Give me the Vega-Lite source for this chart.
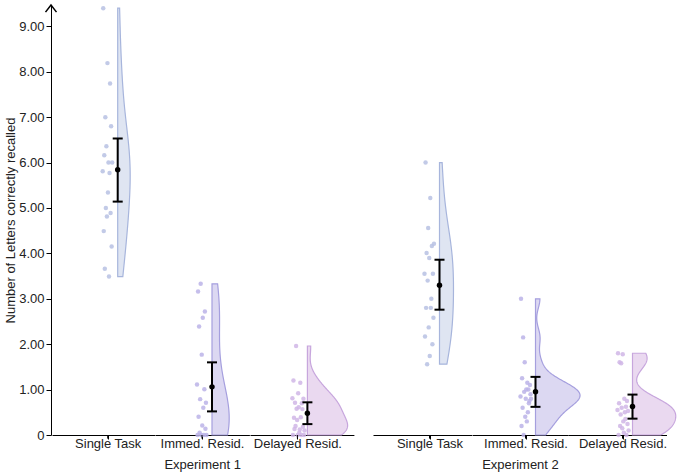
{
"$schema": "https://vega.github.io/schema/vega-lite/v6.json",
"padding": {"left": 4, "top": 2, "right": 8, "bottom": 4},
"config": {"view": {"stroke": null}, "font": "Liberation Sans", "axis": {"labelFont": "Liberation Sans", "titleFont": "Liberation Sans", "grid": false, "domainColor": "#000", "tickColor": "#000", "labelColor": "#222", "titleColor": "#222", "labelFontSize": 13, "titleFontSize": 13, "titleFontWeight": "normal", "ticks": true, "tickWidth": 1}},
"datasets": {
"pts": [
{"exp":"Experiment 1","cond":"Single Task","id":1,"v":5.81},{"exp":"Experiment 1","cond":"Single Task","id":2,"v":9.40},{"exp":"Experiment 1","cond":"Single Task","id":3,"v":4.49},{"exp":"Experiment 1","cond":"Single Task","id":4,"v":6.16},{"exp":"Experiment 1","cond":"Single Task","id":5,"v":3.66},{"exp":"Experiment 1","cond":"Single Task","id":6,"v":7.00},{"exp":"Experiment 1","cond":"Single Task","id":7,"v":5.00},{"exp":"Experiment 1","cond":"Single Task","id":8,"v":6.36},{"exp":"Experiment 1","cond":"Single Task","id":9,"v":4.81},{"exp":"Experiment 1","cond":"Single Task","id":10,"v":8.19},{"exp":"Experiment 1","cond":"Single Task","id":11,"v":5.34},{"exp":"Experiment 1","cond":"Single Task","id":12,"v":6.00},{"exp":"Experiment 1","cond":"Single Task","id":13,"v":3.49},{"exp":"Experiment 1","cond":"Single Task","id":14,"v":5.77},{"exp":"Experiment 1","cond":"Single Task","id":15,"v":7.74},{"exp":"Experiment 1","cond":"Single Task","id":16,"v":4.89},{"exp":"Experiment 1","cond":"Single Task","id":17,"v":6.80},{"exp":"Experiment 1","cond":"Single Task","id":18,"v":4.15},{"exp":"Experiment 1","cond":"Single Task","id":19,"v":6.00},
{"exp":"Experiment 1","cond":"Immed. Resid.","id":1,"v":1.11},{"exp":"Experiment 1","cond":"Immed. Resid.","id":2,"v":0},{"exp":"Experiment 1","cond":"Immed. Resid.","id":3,"v":3.16},{"exp":"Experiment 1","cond":"Immed. Resid.","id":4,"v":0.40},{"exp":"Experiment 1","cond":"Immed. Resid.","id":5,"v":2.39},{"exp":"Experiment 1","cond":"Immed. Resid.","id":6,"v":0.05},{"exp":"Experiment 1","cond":"Immed. Resid.","id":7,"v":0.79},{"exp":"Experiment 1","cond":"Immed. Resid.","id":8,"v":3.33},{"exp":"Experiment 1","cond":"Immed. Resid.","id":9,"v":0},{"exp":"Experiment 1","cond":"Immed. Resid.","id":10,"v":1.77},{"exp":"Experiment 1","cond":"Immed. Resid.","id":11,"v":0.21},{"exp":"Experiment 1","cond":"Immed. Resid.","id":12,"v":2.58},{"exp":"Experiment 1","cond":"Immed. Resid.","id":13,"v":0.60},{"exp":"Experiment 1","cond":"Immed. Resid.","id":14,"v":0},{"exp":"Experiment 1","cond":"Immed. Resid.","id":15,"v":1.01},{"exp":"Experiment 1","cond":"Immed. Resid.","id":16,"v":2.72},{"exp":"Experiment 1","cond":"Immed. Resid.","id":17,"v":0.14},{"exp":"Experiment 1","cond":"Immed. Resid.","id":18,"v":0.71},{"exp":"Experiment 1","cond":"Immed. Resid.","id":19,"v":0},
{"exp":"Experiment 1","cond":"Delayed Resid.","id":1,"v":0.81},{"exp":"Experiment 1","cond":"Delayed Resid.","id":2,"v":0},{"exp":"Experiment 1","cond":"Delayed Resid.","id":3,"v":1.20},{"exp":"Experiment 1","cond":"Delayed Resid.","id":4,"v":0.38},{"exp":"Experiment 1","cond":"Delayed Resid.","id":5,"v":0.13},{"exp":"Experiment 1","cond":"Delayed Resid.","id":6,"v":0.71},{"exp":"Experiment 1","cond":"Delayed Resid.","id":7,"v":0.20},{"exp":"Experiment 1","cond":"Delayed Resid.","id":8,"v":1.96},{"exp":"Experiment 1","cond":"Delayed Resid.","id":9,"v":0.58},{"exp":"Experiment 1","cond":"Delayed Resid.","id":10,"v":0.33},{"exp":"Experiment 1","cond":"Delayed Resid.","id":11,"v":0},{"exp":"Experiment 1","cond":"Delayed Resid.","id":12,"v":0.92},{"exp":"Experiment 1","cond":"Delayed Resid.","id":13,"v":0.61},{"exp":"Experiment 1","cond":"Delayed Resid.","id":14,"v":0.05},{"exp":"Experiment 1","cond":"Delayed Resid.","id":15,"v":0.12},{"exp":"Experiment 1","cond":"Delayed Resid.","id":16,"v":1.15},{"exp":"Experiment 1","cond":"Delayed Resid.","id":17,"v":0.39},{"exp":"Experiment 1","cond":"Delayed Resid.","id":18,"v":0},{"exp":"Experiment 1","cond":"Delayed Resid.","id":19,"v":0.70},{"exp":"Experiment 1","cond":"Delayed Resid.","id":20,"v":0.57},{"exp":"Experiment 1","cond":"Delayed Resid.","id":21,"v":0.18},{"exp":"Experiment 1","cond":"Delayed Resid.","id":22,"v":0.80},{"exp":"Experiment 1","cond":"Delayed Resid.","id":23,"v":0},{"exp":"Experiment 1","cond":"Delayed Resid.","id":24,"v":0.10},
{"exp":"Experiment 2","cond":"Single Task","id":1,"v":3.55},{"exp":"Experiment 2","cond":"Single Task","id":2,"v":2.17},{"exp":"Experiment 2","cond":"Single Task","id":3,"v":6.00},{"exp":"Experiment 2","cond":"Single Task","id":4,"v":2.80},{"exp":"Experiment 2","cond":"Single Task","id":5,"v":4.01},{"exp":"Experiment 2","cond":"Single Task","id":6,"v":1.56},{"exp":"Experiment 2","cond":"Single Task","id":7,"v":3.40},{"exp":"Experiment 2","cond":"Single Task","id":8,"v":4.56},{"exp":"Experiment 2","cond":"Single Task","id":9,"v":2.37},{"exp":"Experiment 2","cond":"Single Task","id":10,"v":3.90},{"exp":"Experiment 2","cond":"Single Task","id":11,"v":1.74},{"exp":"Experiment 2","cond":"Single Task","id":12,"v":5.22},{"exp":"Experiment 2","cond":"Single Task","id":13,"v":2.80},{"exp":"Experiment 2","cond":"Single Task","id":14,"v":3.00},{"exp":"Experiment 2","cond":"Single Task","id":15,"v":4.16},{"exp":"Experiment 2","cond":"Single Task","id":16,"v":2.00},{"exp":"Experiment 2","cond":"Single Task","id":17,"v":3.55},{"exp":"Experiment 2","cond":"Single Task","id":18,"v":2.58},{"exp":"Experiment 2","cond":"Single Task","id":19,"v":4.21},
{"exp":"Experiment 2","cond":"Immed. Resid.","id":1,"v":0.85},{"exp":"Experiment 2","cond":"Immed. Resid.","id":2,"v":3.00},{"exp":"Experiment 2","cond":"Immed. Resid.","id":3,"v":0.20},{"exp":"Experiment 2","cond":"Immed. Resid.","id":4,"v":1.25},{"exp":"Experiment 2","cond":"Immed. Resid.","id":5,"v":0.60},{"exp":"Experiment 2","cond":"Immed. Resid.","id":6,"v":2.15},{"exp":"Experiment 2","cond":"Immed. Resid.","id":7,"v":0},{"exp":"Experiment 2","cond":"Immed. Resid.","id":8,"v":0.95},{"exp":"Experiment 2","cond":"Immed. Resid.","id":9,"v":1.60},{"exp":"Experiment 2","cond":"Immed. Resid.","id":10,"v":0.40},{"exp":"Experiment 2","cond":"Immed. Resid.","id":11,"v":0.80},{"exp":"Experiment 2","cond":"Immed. Resid.","id":12,"v":1.00},{"exp":"Experiment 2","cond":"Immed. Resid.","id":13,"v":0.30},{"exp":"Experiment 2","cond":"Immed. Resid.","id":14,"v":1.15},{"exp":"Experiment 2","cond":"Immed. Resid.","id":15,"v":0.50},{"exp":"Experiment 2","cond":"Immed. Resid.","id":16,"v":1.00},{"exp":"Experiment 2","cond":"Immed. Resid.","id":17,"v":0.70},{"exp":"Experiment 2","cond":"Immed. Resid.","id":18,"v":0.75},{"exp":"Experiment 2","cond":"Immed. Resid.","id":19,"v":1.10},{"exp":"Experiment 2","cond":"Immed. Resid.","id":20,"v":0.90},{"exp":"Experiment 2","cond":"Immed. Resid.","id":21,"v":0.80},
{"exp":"Experiment 2","cond":"Delayed Resid.","id":1,"v":0.55},{"exp":"Experiment 2","cond":"Delayed Resid.","id":2,"v":1.80},{"exp":"Experiment 2","cond":"Delayed Resid.","id":3,"v":0},{"exp":"Experiment 2","cond":"Delayed Resid.","id":4,"v":0.70},{"exp":"Experiment 2","cond":"Delayed Resid.","id":5,"v":1.60},{"exp":"Experiment 2","cond":"Delayed Resid.","id":6,"v":0.20},{"exp":"Experiment 2","cond":"Delayed Resid.","id":7,"v":0.45},{"exp":"Experiment 2","cond":"Delayed Resid.","id":8,"v":1.58},{"exp":"Experiment 2","cond":"Delayed Resid.","id":9,"v":0.60},{"exp":"Experiment 2","cond":"Delayed Resid.","id":10,"v":0.15},{"exp":"Experiment 2","cond":"Delayed Resid.","id":11,"v":1.78},{"exp":"Experiment 2","cond":"Delayed Resid.","id":12,"v":0.30},{"exp":"Experiment 2","cond":"Delayed Resid.","id":13,"v":0.05},{"exp":"Experiment 2","cond":"Delayed Resid.","id":14,"v":0.80},{"exp":"Experiment 2","cond":"Delayed Resid.","id":15,"v":0.50},{"exp":"Experiment 2","cond":"Delayed Resid.","id":16,"v":0.35},{"exp":"Experiment 2","cond":"Delayed Resid.","id":17,"v":0.62},{"exp":"Experiment 2","cond":"Delayed Resid.","id":18,"v":0},{"exp":"Experiment 2","cond":"Delayed Resid.","id":19,"v":0.75},{"exp":"Experiment 2","cond":"Delayed Resid.","id":20,"v":0.24},{"exp":"Experiment 2","cond":"Delayed Resid.","id":21,"v":0.53},{"exp":"Experiment 2","cond":"Delayed Resid.","id":22,"v":0.10}
],
"sum": [
{"exp":"Experiment 1","cond":"Single Task","m":5.84,"lo":5.14,"hi":6.53},
{"exp":"Experiment 1","cond":"Immed. Resid.","m":1.06,"lo":0.52,"hi":1.60},
{"exp":"Experiment 1","cond":"Delayed Resid.","m":0.48,"lo":0.24,"hi":0.72},
{"exp":"Experiment 2","cond":"Single Task","m":3.30,"lo":2.76,"hi":3.86},
{"exp":"Experiment 2","cond":"Immed. Resid.","m":0.95,"lo":0.62,"hi":1.28},
{"exp":"Experiment 2","cond":"Delayed Resid.","m":0.63,"lo":0.36,"hi":0.89}
]
},
"spacing": 19,
"hconcat": [
{
"spacing": 0, "bounds": "flush",
"hconcat": [
{
"width": 1, "height": 430,
"data": {"values": [{}]},
"mark": {"type": "point", "shape": "M-1,1.3L0,0L1,1.3", "size": 121, "filled": false, "stroke": "#000", "strokeWidth": 1.5, "opacity": 1},
"encoding": {
 "x": {"datum": 0, "type": "quantitative", "scale": {"domain": [0, 1], "nice": false}, "axis": null},
 "y": {"datum": 9.47, "type": "quantitative", "scale": {"domain": [0, 9.47], "nice": false},
   "axis": {"values": [0,1,2,3,4,5,6,7,8,9], "labelExpr": "datum.value == 0 ? '0' : format(datum.value, '.2f')", "title": "Number of Letters correctly recalled", "tickSize": 5, "labelPadding": 2, "titlePadding": 1}}}
},
{
"width": 102.7, "height": 430,
"resolve": {"scale": {"x": "independent"}},
"layer": [
{"data": {"name": "pts"}, "transform": [{"filter": "datum.exp=='Experiment 1' && datum.cond=='Single Task'"}],
 "mark": {"type": "circle", "size": 20, "color": "#b7c1e3", "opacity": 0.85},
 "encoding": {"x": {"field": "id", "type": "quantitative", "scale": {"domain": [-95.33, 99.8], "nice": false, "zero": false}, "axis": null},
  "y": {"field": "v", "type": "quantitative", "scale": {"domain": [0, 9.47], "nice": false}, "axis": null}}},
{"data": {"name": "pts"}, "transform": [{"filter": "datum.exp=='Experiment 1' && datum.cond=='Single Task'"}, {"density": "v", "as": ["value", "density"], "steps": 200}],
 "mark": {"type": "area", "orient": "horizontal", "fill": "#dfe5f2", "stroke": "#a7b5dc", "strokeWidth": 1.2},
 "encoding": {
  "y": {"field": "value", "type": "quantitative", "scale": {"domain": [0, 9.47], "nice": false}, "axis": null},
  "x": {"field": "density", "type": "quantitative", "scale": {"domain": [-1.314, 0.74], "nice": false, "zero": false},
    "axis": {"values": [-0.2], "labelExpr": "'Single Task'", "title": null, "ticks": true, "tickSize": 4, "labelPadding": -2, "labelFlush": false}},
  "x2": {"datum": 0}}},
{"data": {"values": [{}]}, "mark": {"type": "rule", "color": "#000", "strokeWidth": 1},
 "encoding": {"x": {"datum": -0.2, "type": "quantitative", "scale": {"domain": [-1.314, 0.74], "nice": false, "zero": false}, "axis": null}, "y": {"datum": 0, "type": "quantitative", "axis": null}, "y2": {"datum": -0.08}}},
{"data": {"name": "sum"}, "transform": [{"filter": "datum.exp=='Experiment 1' && datum.cond=='Single Task'"}],
 "mark": {"type": "rule", "strokeWidth": 2, "color": "#000"},
 "encoding": {"x": {"datum": 0, "type": "quantitative", "scale": {"domain": [-1.314, 0.74], "nice": false, "zero": false}, "axis": null}, "y": {"field": "lo", "type": "quantitative", "axis": null}, "y2": {"field": "hi"}}},
{"data": {"name": "sum"}, "transform": [{"filter": "datum.exp=='Experiment 1' && datum.cond=='Single Task'"}, {"fold": ["lo", "hi"], "as": ["k", "b"]}],
 "mark": {"type": "tick", "orient": "horizontal", "size": 10, "thickness": 2, "color": "#000", "opacity": 1},
 "encoding": {"x": {"datum": 0, "type": "quantitative", "scale": {"domain": [-1.314, 0.74], "nice": false, "zero": false}, "axis": null}, "y": {"field": "b", "type": "quantitative", "axis": null}}},
{"data": {"name": "sum"}, "transform": [{"filter": "datum.exp=='Experiment 1' && datum.cond=='Single Task'"}],
 "mark": {"type": "circle", "size": 30, "color": "#000", "opacity": 1},
 "encoding": {"x": {"datum": 0, "type": "quantitative", "scale": {"domain": [-1.314, 0.74], "nice": false, "zero": false}, "axis": null}, "y": {"field": "m", "type": "quantitative", "axis": null}}}
]
},
{
"width": 94.4, "height": 430,
"resolve": {"scale": {"x": "independent"}},
"layer": [
{"data": {"name": "pts"}, "transform": [{"filter": "datum.exp=='Experiment 1' && datum.cond=='Immed. Resid.'"}],
 "mark": {"type": "circle", "size": 20, "color": "#bbb3e8", "opacity": 0.85},
 "encoding": {"x": {"field": "id", "type": "quantitative", "scale": {"domain": [-78.8, 100.56], "nice": false, "zero": false}, "axis": null},
  "y": {"field": "v", "type": "quantitative", "scale": {"domain": [0, 9.47], "nice": false}, "axis": null}}},
{"data": {"name": "pts"}, "transform": [{"filter": "datum.exp=='Experiment 1' && datum.cond=='Immed. Resid.'"}, {"density": "v", "as": ["value", "density"], "steps": 200}],
 "mark": {"type": "area", "orient": "horizontal", "fill": "#dcd8f2", "stroke": "#a59fde", "strokeWidth": 1.2},
 "encoding": {
  "y": {"field": "value", "type": "quantitative", "scale": {"domain": [0, 9.47], "nice": false}, "axis": null},
  "x": {"field": "density", "type": "quantitative", "scale": {"domain": [-1.14, 0.748], "nice": false, "zero": false},
    "axis": {"values": [-0.2], "labelExpr": "'Immed. Resid.'", "title": "Experiment 1", "titlePadding": 8, "ticks": true, "tickSize": 4, "labelPadding": -2, "labelFlush": false}},
  "x2": {"datum": 0}}},
{"data": {"values": [{}]}, "mark": {"type": "rule", "color": "#000", "strokeWidth": 1},
 "encoding": {"x": {"datum": -0.2, "type": "quantitative", "scale": {"domain": [-1.14, 0.748], "nice": false, "zero": false}, "axis": null}, "y": {"datum": 0, "type": "quantitative", "axis": null}, "y2": {"datum": -0.08}}},
{"data": {"name": "sum"}, "transform": [{"filter": "datum.exp=='Experiment 1' && datum.cond=='Immed. Resid.'"}],
 "mark": {"type": "rule", "strokeWidth": 2, "color": "#000"},
 "encoding": {"x": {"datum": 0, "type": "quantitative", "scale": {"domain": [-1.14, 0.748], "nice": false, "zero": false}, "axis": null}, "y": {"field": "lo", "type": "quantitative", "axis": null}, "y2": {"field": "hi"}}},
{"data": {"name": "sum"}, "transform": [{"filter": "datum.exp=='Experiment 1' && datum.cond=='Immed. Resid.'"}, {"fold": ["lo", "hi"], "as": ["k", "b"]}],
 "mark": {"type": "tick", "orient": "horizontal", "size": 10, "thickness": 2, "color": "#000", "opacity": 1},
 "encoding": {"x": {"datum": 0, "type": "quantitative", "scale": {"domain": [-1.14, 0.748], "nice": false, "zero": false}, "axis": null}, "y": {"field": "b", "type": "quantitative", "axis": null}}},
{"data": {"name": "sum"}, "transform": [{"filter": "datum.exp=='Experiment 1' && datum.cond=='Immed. Resid.'"}],
 "mark": {"type": "circle", "size": 30, "color": "#000", "opacity": 1},
 "encoding": {"x": {"datum": 0, "type": "quantitative", "scale": {"domain": [-1.14, 0.748], "nice": false, "zero": false}, "axis": null}, "y": {"field": "m", "type": "quantitative", "axis": null}}}
]
},
{
"width": 103.9, "height": 430,
"resolve": {"scale": {"x": "independent"}},
"layer": [
{"data": {"name": "pts"}, "transform": [{"filter": "datum.exp=='Experiment 1' && datum.cond=='Delayed Resid.'"}],
 "mark": {"type": "circle", "size": 20, "color": "#d0b6e6", "opacity": 0.85},
 "encoding": {"x": {"field": "id", "type": "quantitative", "scale": {"domain": [-79.56, 117.85], "nice": false, "zero": false}, "axis": null},
  "y": {"field": "v", "type": "quantitative", "scale": {"domain": [0, 9.47], "nice": false}, "axis": null}}},
{"data": {"name": "pts"}, "transform": [{"filter": "datum.exp=='Experiment 1' && datum.cond=='Delayed Resid.'"}, {"density": "v", "as": ["value", "density"], "steps": 200}],
 "mark": {"type": "area", "orient": "horizontal", "fill": "#ead9f0", "stroke": "#c7a6dd", "strokeWidth": 1.2},
 "encoding": {
  "y": {"field": "value", "type": "quantitative", "scale": {"domain": [0, 9.47], "nice": false}, "axis": null},
  "x": {"field": "density", "type": "quantitative", "scale": {"domain": [-1.148, 0.93], "nice": false, "zero": false},
    "axis": {"values": [-0.2], "labelExpr": "'Delayed Resid.'", "title": null, "ticks": true, "tickSize": 4, "labelPadding": -2, "labelFlush": false}},
  "x2": {"datum": 0}}},
{"data": {"values": [{}]}, "mark": {"type": "rule", "color": "#000", "strokeWidth": 1},
 "encoding": {"x": {"datum": -0.2, "type": "quantitative", "scale": {"domain": [-1.148, 0.93], "nice": false, "zero": false}, "axis": null}, "y": {"datum": 0, "type": "quantitative", "axis": null}, "y2": {"datum": -0.08}}},
{"data": {"name": "sum"}, "transform": [{"filter": "datum.exp=='Experiment 1' && datum.cond=='Delayed Resid.'"}],
 "mark": {"type": "rule", "strokeWidth": 2, "color": "#000"},
 "encoding": {"x": {"datum": 0, "type": "quantitative", "scale": {"domain": [-1.148, 0.93], "nice": false, "zero": false}, "axis": null}, "y": {"field": "lo", "type": "quantitative", "axis": null}, "y2": {"field": "hi"}}},
{"data": {"name": "sum"}, "transform": [{"filter": "datum.exp=='Experiment 1' && datum.cond=='Delayed Resid.'"}, {"fold": ["lo", "hi"], "as": ["k", "b"]}],
 "mark": {"type": "tick", "orient": "horizontal", "size": 10, "thickness": 2, "color": "#000", "opacity": 1},
 "encoding": {"x": {"datum": 0, "type": "quantitative", "scale": {"domain": [-1.148, 0.93], "nice": false, "zero": false}, "axis": null}, "y": {"field": "b", "type": "quantitative", "axis": null}}},
{"data": {"name": "sum"}, "transform": [{"filter": "datum.exp=='Experiment 1' && datum.cond=='Delayed Resid.'"}],
 "mark": {"type": "circle", "size": 30, "color": "#000", "opacity": 1},
 "encoding": {"x": {"datum": 0, "type": "quantitative", "scale": {"domain": [-1.148, 0.93], "nice": false, "zero": false}, "axis": null}, "y": {"field": "m", "type": "quantitative", "axis": null}}}
]
}
]
},
{
"spacing": 0, "bounds": "flush",
"hconcat": [
{
"width": 98.5, "height": 430,
"resolve": {"scale": {"x": "independent"}},
"layer": [
{"data": {"name": "pts"}, "transform": [{"filter": "datum.exp=='Experiment 2' && datum.cond=='Single Task'"}],
 "mark": {"type": "circle", "size": 20, "color": "#b7c1e3", "opacity": 0.85},
 "encoding": {"x": {"field": "id", "type": "quantitative", "scale": {"domain": [-96.85, 90.3], "nice": false, "zero": false}, "axis": null},
  "y": {"field": "v", "type": "quantitative", "scale": {"domain": [0, 9.47], "nice": false}, "axis": null}}},
{"data": {"name": "pts"}, "transform": [{"filter": "datum.exp=='Experiment 2' && datum.cond=='Single Task'"}, {"density": "v", "as": ["value", "density"], "steps": 200}],
 "mark": {"type": "area", "orient": "horizontal", "fill": "#dfe5f2", "stroke": "#a7b5dc", "strokeWidth": 1.2},
 "encoding": {
  "y": {"field": "value", "type": "quantitative", "scale": {"domain": [0, 9.47], "nice": false}, "axis": null},
  "x": {"field": "density", "type": "quantitative", "scale": {"domain": [-1.33, 0.64], "nice": false, "zero": false},
    "axis": {"values": [-0.2], "labelExpr": "'Single Task'", "title": null, "ticks": true, "tickSize": 4, "labelPadding": -2, "labelFlush": false}},
  "x2": {"datum": 0}}},
{"data": {"values": [{}]}, "mark": {"type": "rule", "color": "#000", "strokeWidth": 1},
 "encoding": {"x": {"datum": -0.2, "type": "quantitative", "scale": {"domain": [-1.33, 0.64], "nice": false, "zero": false}, "axis": null}, "y": {"datum": 0, "type": "quantitative", "axis": null}, "y2": {"datum": -0.08}}},
{"data": {"name": "sum"}, "transform": [{"filter": "datum.exp=='Experiment 2' && datum.cond=='Single Task'"}],
 "mark": {"type": "rule", "strokeWidth": 2, "color": "#000"},
 "encoding": {"x": {"datum": 0, "type": "quantitative", "scale": {"domain": [-1.33, 0.64], "nice": false, "zero": false}, "axis": null}, "y": {"field": "lo", "type": "quantitative", "axis": null}, "y2": {"field": "hi"}}},
{"data": {"name": "sum"}, "transform": [{"filter": "datum.exp=='Experiment 2' && datum.cond=='Single Task'"}, {"fold": ["lo", "hi"], "as": ["k", "b"]}],
 "mark": {"type": "tick", "orient": "horizontal", "size": 10, "thickness": 2, "color": "#000", "opacity": 1},
 "encoding": {"x": {"datum": 0, "type": "quantitative", "scale": {"domain": [-1.33, 0.64], "nice": false, "zero": false}, "axis": null}, "y": {"field": "b", "type": "quantitative", "axis": null}}},
{"data": {"name": "sum"}, "transform": [{"filter": "datum.exp=='Experiment 2' && datum.cond=='Single Task'"}],
 "mark": {"type": "circle", "size": 30, "color": "#000", "opacity": 1},
 "encoding": {"x": {"datum": 0, "type": "quantitative", "scale": {"domain": [-1.33, 0.64], "nice": false, "zero": false}, "axis": null}, "y": {"field": "m", "type": "quantitative", "axis": null}}}
]
},
{
"width": 96, "height": 430,
"resolve": {"scale": {"x": "independent"}},
"layer": [
{"data": {"name": "pts"}, "transform": [{"filter": "datum.exp=='Experiment 2' && datum.cond=='Immed. Resid.'"}],
 "mark": {"type": "circle", "size": 20, "color": "#bbb3e8", "opacity": 0.85},
 "encoding": {"x": {"field": "id", "type": "quantitative", "scale": {"domain": [-91.15, 91.25], "nice": false, "zero": false}, "axis": null},
  "y": {"field": "v", "type": "quantitative", "scale": {"domain": [0, 9.47], "nice": false}, "axis": null}}},
{"data": {"name": "pts"}, "transform": [{"filter": "datum.exp=='Experiment 2' && datum.cond=='Immed. Resid.'"}, {"density": "v", "as": ["value", "density"], "steps": 200}],
 "mark": {"type": "area", "orient": "horizontal", "fill": "#dcd8f2", "stroke": "#a59fde", "strokeWidth": 1.2},
 "encoding": {
  "y": {"field": "value", "type": "quantitative", "scale": {"domain": [0, 9.47], "nice": false}, "axis": null},
  "x": {"field": "density", "type": "quantitative", "scale": {"domain": [-1.27, 0.65], "nice": false, "zero": false},
    "axis": {"values": [-0.2], "labelExpr": "'Immed. Resid.'", "title": "Experiment 2", "titlePadding": 8, "ticks": true, "tickSize": 4, "labelPadding": -2, "labelFlush": false}},
  "x2": {"datum": 0}}},
{"data": {"values": [{}]}, "mark": {"type": "rule", "color": "#000", "strokeWidth": 1},
 "encoding": {"x": {"datum": -0.2, "type": "quantitative", "scale": {"domain": [-1.27, 0.65], "nice": false, "zero": false}, "axis": null}, "y": {"datum": 0, "type": "quantitative", "axis": null}, "y2": {"datum": -0.08}}},
{"data": {"name": "sum"}, "transform": [{"filter": "datum.exp=='Experiment 2' && datum.cond=='Immed. Resid.'"}],
 "mark": {"type": "rule", "strokeWidth": 2, "color": "#000"},
 "encoding": {"x": {"datum": 0, "type": "quantitative", "scale": {"domain": [-1.27, 0.65], "nice": false, "zero": false}, "axis": null}, "y": {"field": "lo", "type": "quantitative", "axis": null}, "y2": {"field": "hi"}}},
{"data": {"name": "sum"}, "transform": [{"filter": "datum.exp=='Experiment 2' && datum.cond=='Immed. Resid.'"}, {"fold": ["lo", "hi"], "as": ["k", "b"]}],
 "mark": {"type": "tick", "orient": "horizontal", "size": 10, "thickness": 2, "color": "#000", "opacity": 1},
 "encoding": {"x": {"datum": 0, "type": "quantitative", "scale": {"domain": [-1.27, 0.65], "nice": false, "zero": false}, "axis": null}, "y": {"field": "b", "type": "quantitative", "axis": null}}},
{"data": {"name": "sum"}, "transform": [{"filter": "datum.exp=='Experiment 2' && datum.cond=='Immed. Resid.'"}],
 "mark": {"type": "circle", "size": 30, "color": "#000", "opacity": 1},
 "encoding": {"x": {"datum": 0, "type": "quantitative", "scale": {"domain": [-1.27, 0.65], "nice": false, "zero": false}, "axis": null}, "y": {"field": "m", "type": "quantitative", "axis": null}}}
]
},
{
"width": 98.5, "height": 430,
"resolve": {"scale": {"x": "independent"}},
"layer": [
{"data": {"name": "pts"}, "transform": [{"filter": "datum.exp=='Experiment 2' && datum.cond=='Delayed Resid.'"}],
 "mark": {"type": "circle", "size": 20, "color": "#d0b6e6", "opacity": 0.85},
 "encoding": {"x": {"field": "id", "type": "quantitative", "scale": {"domain": [-93.05, 94.1], "nice": false, "zero": false}, "axis": null},
  "y": {"field": "v", "type": "quantitative", "scale": {"domain": [0, 9.47], "nice": false}, "axis": null}}},
{"data": {"name": "pts"}, "transform": [{"filter": "datum.exp=='Experiment 2' && datum.cond=='Delayed Resid.'"}, {"density": "v", "as": ["value", "density"], "steps": 200}],
 "mark": {"type": "area", "orient": "horizontal", "fill": "#ead9f0", "stroke": "#c7a6dd", "strokeWidth": 1.2},
 "encoding": {
  "y": {"field": "value", "type": "quantitative", "scale": {"domain": [0, 9.47], "nice": false}, "axis": null},
  "x": {"field": "density", "type": "quantitative", "scale": {"domain": [-1.29, 0.68], "nice": false, "zero": false},
    "axis": {"values": [-0.2], "labelExpr": "'Delayed Resid.'", "title": null, "ticks": true, "tickSize": 4, "labelPadding": -2, "labelFlush": false}},
  "x2": {"datum": 0}}},
{"data": {"values": [{}]}, "mark": {"type": "rule", "color": "#000", "strokeWidth": 1},
 "encoding": {"x": {"datum": -0.2, "type": "quantitative", "scale": {"domain": [-1.29, 0.68], "nice": false, "zero": false}, "axis": null}, "y": {"datum": 0, "type": "quantitative", "axis": null}, "y2": {"datum": -0.08}}},
{"data": {"name": "sum"}, "transform": [{"filter": "datum.exp=='Experiment 2' && datum.cond=='Delayed Resid.'"}],
 "mark": {"type": "rule", "strokeWidth": 2, "color": "#000"},
 "encoding": {"x": {"datum": 0, "type": "quantitative", "scale": {"domain": [-1.29, 0.68], "nice": false, "zero": false}, "axis": null}, "y": {"field": "lo", "type": "quantitative", "axis": null}, "y2": {"field": "hi"}}},
{"data": {"name": "sum"}, "transform": [{"filter": "datum.exp=='Experiment 2' && datum.cond=='Delayed Resid.'"}, {"fold": ["lo", "hi"], "as": ["k", "b"]}],
 "mark": {"type": "tick", "orient": "horizontal", "size": 10, "thickness": 2, "color": "#000", "opacity": 1},
 "encoding": {"x": {"datum": 0, "type": "quantitative", "scale": {"domain": [-1.29, 0.68], "nice": false, "zero": false}, "axis": null}, "y": {"field": "b", "type": "quantitative", "axis": null}}},
{"data": {"name": "sum"}, "transform": [{"filter": "datum.exp=='Experiment 2' && datum.cond=='Delayed Resid.'"}],
 "mark": {"type": "circle", "size": 30, "color": "#000", "opacity": 1},
 "encoding": {"x": {"datum": 0, "type": "quantitative", "scale": {"domain": [-1.29, 0.68], "nice": false, "zero": false}, "axis": null}, "y": {"field": "m", "type": "quantitative", "axis": null}}}
]
}
]
}
]
}
